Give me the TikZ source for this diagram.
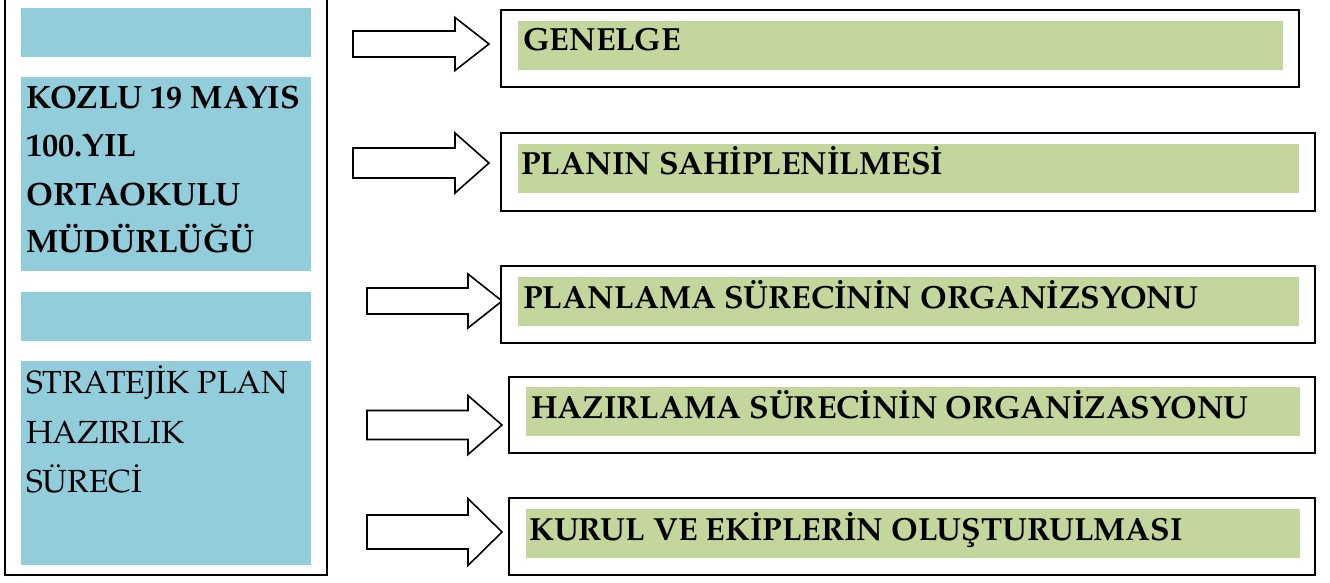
\documentclass[tikz,border=0pt]{standalone}
\usepackage{fontspec}
\setmainfont{TeX Gyre Pagella}
\definecolor{boxblue}{HTML}{92CDDC}
\definecolor{boxgreen}{HTML}{C3D69B}
\tikzset{
  bluebox/.style={fill=boxblue, draw=none},
  greenbox/.style={fill=boxgreen, draw=none},
  framebox/.style={draw=black, line width=2pt, fill=white},
  blockarrow/.style={draw=black, line width=1.6pt, fill=white, line join=miter},
  lefttext/.style={anchor=base west, inner sep=0pt, font=\fontsize{32.3}{38}\selectfont\bfseries},
  leftplain/.style={anchor=base west, inner sep=0pt, font=\fontsize{32}{38}\selectfont},
  titletext/.style={anchor=base west, inner sep=0pt, font=\fontsize{32}{38}\selectfont\bfseries}
}
% #1 shaft start x, #2 head base x, #3 tip x, #4 centre y, #5 shaft half height, #6 head half height
\newcommand{\myarrow}[6]{%
  \draw[blockarrow] (#1,#4-#5) -- (#2,#4-#5) -- (#2,#4-#6) -- (#3,#4) -- (#2,#4+#6) -- (#2,#4+#5) -- (#1,#4+#5) -- cycle;}
\begin{document}
\begin{tikzpicture}[x=1pt, y=-1pt]
\useasboundingbox (0,0) rectangle (1330,583);
% left container (top edge lies above the picture)
\draw[black, line width=2pt] (5,-5) -- (5,575) -- (327,575) -- (327,-5);
\fill[bluebox] (21,8) rectangle (311,57);
\fill[bluebox] (21,77) rectangle (311,271);
\fill[bluebox] (21,292) rectangle (311,341);
\fill[bluebox] (21,361) rectangle (311,565);
\node[lefttext] (k1) at (26,109) {KOZLU 19 MAYIS};
\node[lefttext] (k2) at (26,157) {100.YIL};
\node[lefttext] (k3) at (26,205) {ORTAOKULU};
\node[lefttext] (k4) at (26,252) {MÜDÜRLÜĞÜ};
\node[leftplain] (s1) at (26,393) {STRATEJİK PLAN};
\node[leftplain] (s2) at (26,443) {HAZIRLIK};
\node[leftplain] (s3) at (26,492) {SÜRECİ};
% arrows
\myarrow{353}{455}{489}{44}{13}{26.5}
\myarrow{353}{455}{489}{163}{15}{30}
\myarrow{367}{468}{502}{301}{13}{27}
\myarrow{367}{468}{502}{425}{14.5}{29.5}
\myarrow{367}{468}{502}{532}{17}{33.5}
% right boxes
\draw[framebox] (501,10) rectangle (1299,87);
\fill[greenbox] (518,21) rectangle (1283,70);
\node[titletext] (t1) at (523,51) {GENELGE};
\draw[framebox] (501,133) rectangle (1315,211);
\fill[greenbox] (518,144) rectangle (1299,193);
\node[titletext] (t2) at (521,175) {PLANIN SAHİPLENİLMESİ};
\draw[framebox] (501,266) rectangle (1315,343);
\fill[greenbox] (518,277) rectangle (1299,326);
\node[titletext] (t3) at (523,308) {PLANLAMA SÜRECİNİN ORGANİZSYONU};
\draw[framebox] (509,377) rectangle (1315,453);
\fill[greenbox] (526,387) rectangle (1300,436);
\node[titletext] (t4) at (531,418) {HAZIRLAMA SÜRECİNİN ORGANİZASYONU};
\draw[framebox] (509,498) rectangle (1315,575);
\fill[greenbox] (526,509) rectangle (1300,558);
\node[titletext] (t5) at (529,540) {KURUL VE EKİPLERİN OLUŞTURULMASI};
\end{tikzpicture}
\end{document}
